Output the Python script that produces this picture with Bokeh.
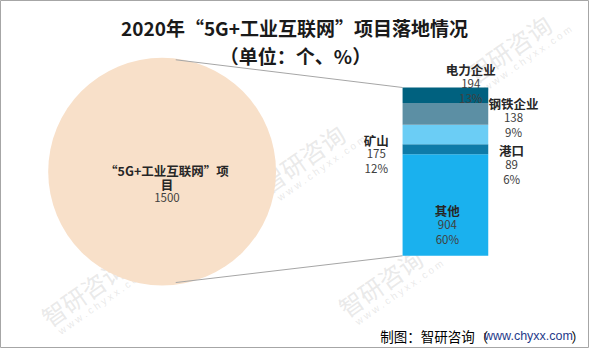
import math
from bokeh.plotting import figure
from bokeh.models import Range1d, ColumnDataSource
from bokeh.core.properties import value
from bokeh.embed import file_html
from bokeh.resources import INLINE

# ---------------- data ----------------
title_line1 = "2020年“5G+工业互联网”项目落地情况"
title_line2 = "（单位：个、%）"
pie_name = "“5G+工业互联网”项"
pie_name2 = "目"
pie_total = 1500

# stacked bar, from bottom to top
categories = ["其他", "港口", "矿山", "电力企业", "钢铁企业"]
values = [904, 89, 175, 194, 138]
footer_a = "制图：智研咨询（"
footer_url = "www.chyxx.com"
footer_b = "）"

# ---------------- styles / layout ----------------
bar_colors = ["#1AB1EE", "#0E7BA8", "#6BCDF5", "#5C8FA4", "#00617F"]
pie_color = "#F8E0C9"
CJK = value("Noto Sans CJK SC")
# label anchor (layout) per category: x, y of the name line (reference pixel space)
label_pos = {
    "其他": (459, 220),
    "港口": (525, 157),
    "矿山": (386, 146),
    "电力企业": (483, 72),
    "钢铁企业": (527, 108),
}

RW, RH = 605, 364          # reference canvas
W, H = 589, 348            # figure size fitting the window
p = figure(width=W, height=H, output_backend="svg", toolbar_location=None,
           x_range=Range1d(0, RW), y_range=Range1d(RH, 0),
           min_border=0, outline_line_color="#A6A6A6", outline_line_width=1,
           background_fill_color="white", border_fill_color="white")
p.axis.visible = False
p.grid.visible = False

# bar scale: value 0 -> reference pixel 267, total -> reference pixel 91
bar_bot_px, bar_top_px = 267, 91
span = pie_total * RH / (bar_bot_px - bar_top_px)
start = -(RH - bar_bot_px) / RH * span
p.extra_y_ranges = {"bar": Range1d(start, start + span)}

# ---------------- watermarks ----------------
wm = [(310, 165), (85, 305), (390, 295), (522, 50)]
ang = math.radians(35)
wx = [a for a, b in wm]
wy = [b for a, b in wm]
p.text(x=wx, y=wy, text=["智研咨询"] * len(wm), angle=ang, text_font=CJK,
       text_font_size="24px", text_color="#C8C8C8", text_alpha=0.4,
       text_align="center", text_baseline="middle")
ox, oy = 20 * math.sin(ang), 20 * math.cos(ang)
p.text(x=[a + ox + 8 for a in wx], y=[b + oy - 6 for b in wy], text=["w w w . c h y x x . c o m"] * len(wm),
       angle=ang, text_font=value("Liberation Sans"), text_font_size="10px",
       text_color="#C8C8C8", text_alpha=0.4, text_align="center", text_baseline="middle")

# ---------------- pie (single slice) ----------------
p.circle(x=[166], y=[179], radius=117, fill_color=pie_color, line_color=None)

# connector lines
p.segment(x0=[180, 180], y0=[62, 295], x1=[413, 413], y1=[91, 267],
          line_color="#A6A6A6", line_width=1)

# ---------------- stacked bar ----------------
bottoms, tops = [], []
acc = 0
for v in values:
    bottoms.append(acc)
    acc += v
    tops.append(acc)
src = ColumnDataSource(dict(x=[457] * len(values), bottom=bottoms, top=tops, color=bar_colors))
p.vbar(x="x", width=88, bottom="bottom", top="top", fill_color="color", line_color=None,
       source=src, y_range_name="bar")

# ---------------- labels ----------------
total = sum(values)
lx = [label_pos[c][0] for c in categories]
ly = [label_pos[c][1] for c in categories]
p.text(x=lx, y=ly, text=categories, text_font=CJK, text_font_size="12.5px",
       text_font_style="bold", text_color="#262626", text_align="center", text_baseline="middle")
p.text(x=lx, y=[y + 14.5 for y in ly], text=[str(v) for v in values], text_font=CJK,
       text_font_size="11.5px", text_color="#404040", text_align="center", text_baseline="middle")
p.text(x=lx, y=[y + 29.5 for y in ly], text=[f"{round(v / total * 100)}%" for v in values],
       text_font=CJK, text_font_size="11.5px", text_color="#404040",
       text_align="center", text_baseline="middle")

# pie label
p.text(x=[171], y=[178], text=[pie_name], text_font=CJK, text_font_size="12.5px",
       text_font_style="bold", text_color="#262626", text_align="center", text_baseline="middle")
p.text(x=[171], y=[192], text=[pie_name2], text_font=CJK, text_font_size="12.5px",
       text_font_style="bold", text_color="#262626", text_align="center", text_baseline="middle")
p.text(x=[171], y=[206], text=[str(pie_total)], text_font=CJK, text_font_size="11.5px",
       text_color="#404040", text_align="center", text_baseline="middle")

# ---------------- title ----------------
p.text(x=[302], y=[28], text=[title_line1], text_font=CJK, text_font_size="19px",
       text_font_style="bold", text_color="#1A1A1A", text_align="center", text_baseline="middle")
p.text(x=[303], y=[58], text=[title_line2], text_font=CJK, text_font_size="19px",
       text_font_style="bold", text_color="#1A1A1A", text_align="center", text_baseline="middle")

# ---------------- footer ----------------
p.text(x=[600], y=[351], text=[footer_b], text_font=CJK, text_font_size="13.5px",
       text_color="#000000", text_align="right", text_baseline="middle")
p.text(x=[588], y=[351], text=[footer_url], text_font=value("Liberation Sans"), text_font_size="12.5px",
       text_color="#1F3A8A", text_align="right", text_baseline="middle")
p.text(x=[501], y=[351], text=[footer_a], text_font=CJK, text_font_size="13.5px",
       text_color="#000000", text_align="right", text_baseline="middle")

open("out.html", "w").write(file_html(p, INLINE))
